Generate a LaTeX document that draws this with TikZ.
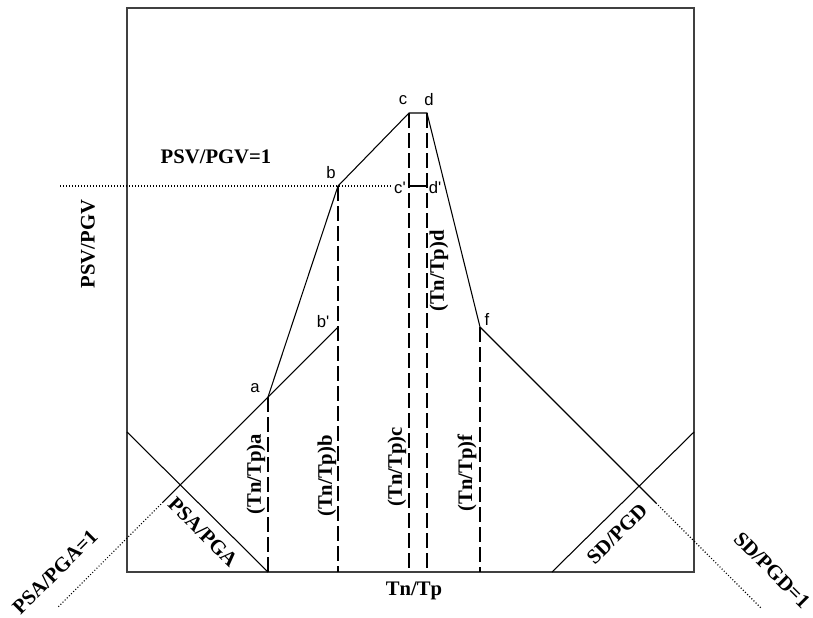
\documentclass[tikz,border=0pt]{standalone}
\usepackage{fontspec}
\setmainfont{Liberation Serif}
\newfontfamily\lblfont{Liberation Sans}
\begin{document}
\begin{tikzpicture}[x=0.75pt,y=-0.75pt,
  axislbl/.style={font=\bfseries\fontsize{15.5}{15.5}\selectfont, inner sep=0pt},
  ptlbl/.style={font=\lblfont\fontsize{12.5}{12.5}\selectfont, inner sep=0pt},
  ln/.style={line width=0.8pt},
  dsh/.style={line width=1pt, dash pattern=on 11pt off 4pt},
  dot/.style={line width=0.8pt, dash pattern=on 0.75pt off 1.5pt}]
\useasboundingbox (0,0) rectangle (813,617);
% frame
\draw[line width=1.1pt, black!75] (127,8) rectangle (694,572);
% key points
\coordinate (a) at (268,397);
\coordinate (b) at (338,186);
\coordinate (bp) at (338,327);
\coordinate (c) at (409,113);
\coordinate (d) at (427,113);
\coordinate (cp) at (409,186);
\coordinate (dp) at (427,186);
\coordinate (f) at (480,327);
\coordinate (a0) at (268,572);
\coordinate (b0) at (338,572);
\coordinate (c0) at (409,572);
\coordinate (d0) at (427,572);
\coordinate (f0) at (480,572);
\coordinate (psaT) at (127,432);
\coordinate (sdB) at (552,572);
\coordinate (sdT) at (694,432);
\coordinate (sL) at (163,502);
\coordinate (sLL) at (57,608);
\coordinate (fR) at (656,503);
\coordinate (fRR) at (762,609);
\coordinate (hL) at (60,186);
\coordinate (hR) at (392,186);
% spectrum shape
\draw[ln] (a) -- (b) -- (c) -- (d) -- (f);
\draw[ln] (cp) -- (dp);
\draw[ln] (bp) -- (sL);
\draw[dot] (sL) -- (sLL);
\draw[ln] (f) -- (fR);
\draw[dot] (fR) -- (fRR);
\draw[ln] (psaT) -- (a0);
\draw[ln] (sdB) -- (sdT);
\draw[dot] (hL) -- (hR);
% dashed verticals
\draw[dsh] (a) -- (a0);
\draw[dsh] (b) -- (b0);
\draw[dsh] (c) -- (c0);
\draw[dsh] (d) -- (d0);
\draw[dsh] (f) -- (f0);
% point labels
\node[ptlbl] (la) at (255,388) {a};
\node[ptlbl] (lb) at (331,173) {b};
\node[ptlbl] (lbp) at (323,322) {b'};
\node[ptlbl] (lc) at (403,100) {c};
\node[ptlbl] (ld) at (429,100) {d};
\node[ptlbl] (lcp) at (400,188) {c'};
\node[ptlbl] (ldp) at (435,188) {d'};
\node[ptlbl] (lf) at (487,319) {f};
% axis and curve labels
\node[axislbl] (psv1) at (216,157) {PSV/PGV=1};
\node[axislbl, rotate=90] (psv) at (88,244) {PSV/PGV};
\node[axislbl] (tntp) at (414,591) {Tn/Tp};
\node[axislbl, rotate=90] (ta) at (256,474) {(Tn/Tp)a};
\node[axislbl, rotate=90] (tb) at (327,476) {(Tn/Tp)b};
\node[axislbl, rotate=90] (tc) at (397,467) {(Tn/Tp)c};
\node[axislbl, rotate=90] (td) at (439,271) {(Tn/Tp)d};
\node[axislbl, rotate=90] (tf) at (467,473) {(Tn/Tp)f};
\node[axislbl, rotate=-45] (psa) at (203,532) {PSA/PGA};
\node[axislbl, rotate=45] (psa1) at (55,572) {PSA/PGA=1};
\node[axislbl, rotate=45] (sd) at (617,534) {SD/PGD};
\node[axislbl, rotate=-45] (sd1) at (772,570) {SD/PGD=1};
\end{tikzpicture}
\end{document}
